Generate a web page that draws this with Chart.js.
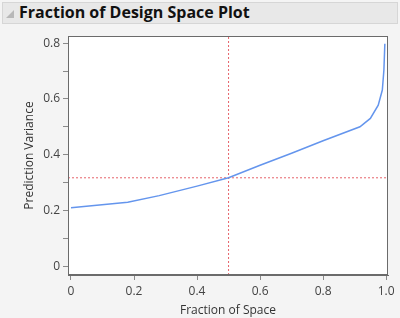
<!DOCTYPE html>
<html>
<head>
<meta charset="utf-8">
<script src="https://cdn.jsdelivr.net/npm/chart.js@4.4.1/dist/chart.umd.min.js"></script>
<style>
  html, body { margin: 0; padding: 0; background: #f4f4f4; }
  .wrap { position: relative; width: 400px; height: 318px; overflow: hidden; }
  .hdr {
    position: absolute; left: 2px; top: 2px; width: 394px; height: 20px;
    background: #e8e8e8; border: 1px solid #d6d6d6;
    font-family: "Open Sans", "Noto Sans", sans-serif; font-weight: bold;
    font-size: 16px; line-height: 20px; color: #111;
  }
  .hdr .tri { position: absolute; left: 3px; top: 7px; width: 0; height: 0;
    border-left: 8px solid transparent; border-bottom: 8px solid #b8b8b8; }
  .hdr .txt { position: absolute; left: 16px; top: -1px; }
  canvas { position: absolute; left: 0; top: 0; }
</style>
</head>
<body>
<div class="wrap">
  <div class="hdr"><span class="tri"></span><span class="txt">Fraction of Design Space Plot</span></div>
  <canvas id="fdsCanvas" width="400" height="318"></canvas>
</div>
<script>
// data
var fraction = [0, 0.18, 0.28, 0.40, 0.50, 0.60, 0.70, 0.80, 0.917, 0.95, 0.975, 0.988, 0.993, 0.996];
var variance = [0.209, 0.229, 0.253, 0.287, 0.317, 0.362, 0.405, 0.450, 0.500, 0.530, 0.578, 0.632, 0.704, 0.798];
var refX = 0.5;
var refY = 0.317;
var xRange = [-0.0095, 1.006];
var yRange = [-0.032, 0.826];

var curvePts = fraction.map(function(f, i) { return { x: f, y: variance[i] }; });

// white plot area + frame
var frame = {
  id: 'frame',
  beforeDatasetsDraw: function(chart) {
    var a = chart.chartArea, c = chart.ctx;
    c.save();
    c.fillStyle = '#ffffff';
    c.fillRect(a.left, a.top, a.right - a.left, a.bottom - a.top);
    c.restore();
  },
  afterDraw: function(chart) {
    var a = chart.chartArea, c = chart.ctx;
    c.save();
    c.strokeStyle = '#6b6b6b';
    c.lineWidth = 1;
    c.strokeRect(a.left + 0.5, a.top + 0.5, a.right - a.left - 1, a.bottom - a.top - 1);
    c.restore();
  }
};

var font = { family: '"Open Sans", "Noto Sans", sans-serif', size: 12 };

var chart = new Chart(document.getElementById('fdsCanvas').getContext('2d'), {
  type: 'line',
  data: {
    datasets: [
      {
        data: curvePts,
        borderColor: 'rgb(100,149,237)',
        borderWidth: 1.5,
        pointRadius: 0,
        tension: 0,
        fill: false
      },
      {
        data: [{ x: refX, y: yRange[0] }, { x: refX, y: yRange[1] }],
        borderColor: 'rgba(225,70,80,0.85)',
        borderWidth: 1,
        borderDash: [2, 2],
        pointRadius: 0
      },
      {
        data: [{ x: xRange[0], y: refY }, { x: xRange[1], y: refY }],
        borderColor: 'rgba(225,70,80,0.85)',
        borderWidth: 1,
        borderDash: [2, 2],
        pointRadius: 0
      }
    ]
  },
  options: {
    responsive: false,
    animation: false,
    layout: { padding: { top: 36, right: 12, left: 0, bottom: 0 } },
    plugins: { legend: { display: false }, tooltip: { enabled: false } },
    scales: {
      x: {
        type: 'linear',
        min: xRange[0],
        max: xRange[1],
        grid: { drawOnChartArea: false, drawTicks: true, tickLength: 5, color: '#8a8a8a' },
        border: { display: true, color: '#6b6b6b' },
        ticks: {
          stepSize: 0.2,
          includeBounds: false,
          padding: 4,
          color: '#444',
          font: font,
          maxRotation: 0,
          callback: function(v) {
            var r = Math.round(v * 10) / 10;
            return r === 0 ? '0' : r.toFixed(1);
          }
        },
        title: { display: true, text: 'Fraction of Space', color: '#333', font: font, padding: { top: 2, bottom: 0 } },
        afterFit: function(s) { s.height = 43; }
      },
      y: {
        type: 'linear',
        min: yRange[0],
        max: yRange[1],
        grid: { drawOnChartArea: false, drawTicks: true, tickLength: 5, color: '#8a8a8a' },
        border: { display: true, color: '#6b6b6b' },
        ticks: {
          stepSize: 0.1,
          includeBounds: false,
          padding: 3,
          color: '#444',
          font: font,
          autoSkip: false,
          callback: function(v) {
            var r = Math.round(v * 10);
            if (r % 2 !== 0) return '';
            return r === 0 ? '0' : (r / 10).toFixed(1);
          }
        },
        title: { display: true, text: 'Prediction Variance', color: '#333', font: font, padding: { top: 22, bottom: 0 } },
        afterFit: function(s) { s.width = 68; }
      }
    }
  },
  plugins: [frame]
});
</script>
</body>
</html>
